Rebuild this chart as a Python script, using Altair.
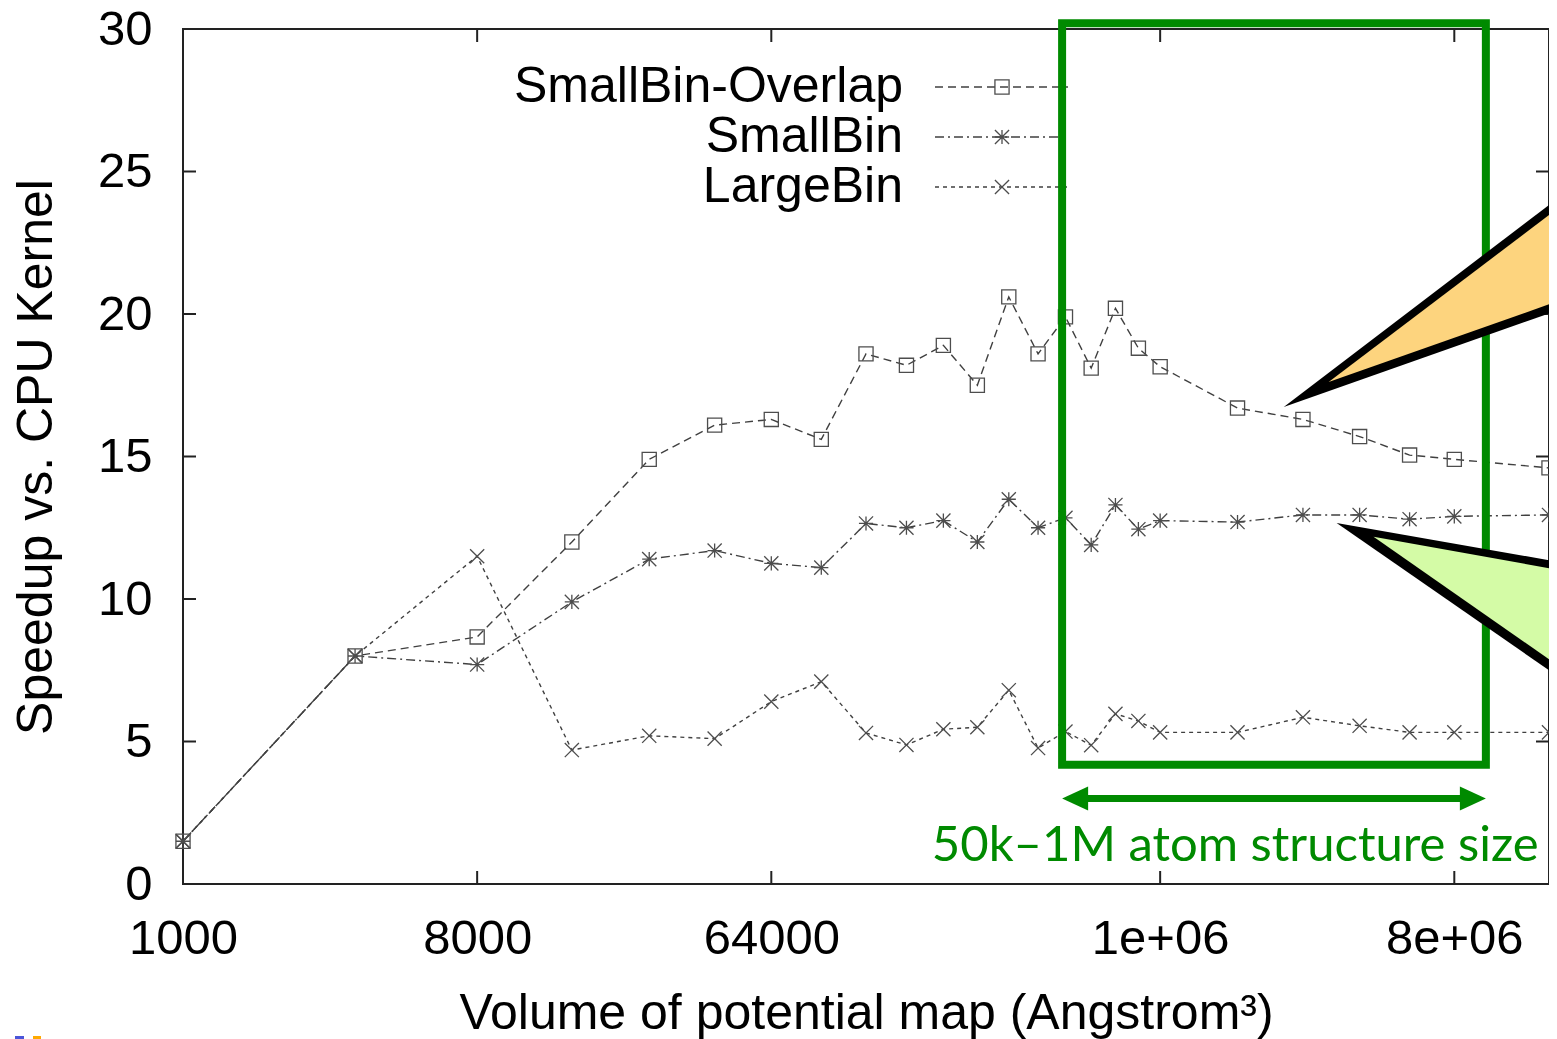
import altair as alt
import pandas as pd

# ---------------- data ----------------
series = ["SmallBin-Overlap", "SmallBin", "LargeBin"]
volumes = [1000, 3375, 8000, 15625, 27000, 42875, 64000, 91125, 125000, 166375,
           216000, 274625, 343000, 421875, 512000, 614125, 729000, 857375,
           1000000, 1728000, 2744000, 4096000, 5832000, 8000000, 15625000]
overlap = [1.5, 8.0, 8.67, 12.0, 14.9, 16.1, 16.3, 15.6, 18.6, 18.2, 18.9, 17.5,
           20.6, 18.6, 19.9, 18.1, 20.2, 18.8, 18.15, 16.7, 16.3, 15.7, 15.05, 14.9, 14.6]
smallbin = [1.5, 8.0, 7.7, 9.9, 11.4, 11.7, 11.25, 11.1, 12.65, 12.5, 12.75, 12.0,
            13.5, 12.5, 12.85, 11.9, 13.3, 12.45, 12.75, 12.7, 12.95, 12.95, 12.8, 12.9, 12.95]
largebin = [1.5, 8.0, 11.5, 4.7, 5.2, 5.1, 6.4, 7.1, 5.3, 4.88, 5.43, 5.5, 6.8,
            4.77, 5.35, 4.87, 5.97, 5.72, 5.32, 5.32, 5.85, 5.55, 5.32, 5.32, 5.32]

x_ticks = [1000, 8000, 64000, 1000000, 8000000]
x_tick_labels = ["1000", "8000", "64000", "1e+06", "8e+06"]
y_ticks = [0, 5, 10, 15, 20, 25, 30]

# annotation (data coordinates)
box_x = [500000, 10000000]
box_y = [4.18, 30.2]
arrow_x = [500000, 10000000]
arrow_y = 3.0
note_text = "50k\u20131M atom structure size"
note_x = 1700000
note_y = 0.8
# callouts: tip then far end (upper, lower)
orange_outer_x = [2396000, 21760000]; orange_outer_hi = [16.74, 25.08]; orange_outer_lo = [16.74, 20.6]
orange_inner_x = [3291000, 21760000]; orange_inner_hi = [17.61, 24.72]; orange_inner_lo = [17.61, 20.92]
green_outer_x = [3482000, 21760000]; green_outer_hi = [12.67, 11.07]; green_outer_lo = [12.67, 6.36]
green_inner_x = [4520000, 21760000]; green_inner_hi = [12.18, 10.79]; green_inner_lo = [12.18, 6.74]

# ---------------- styling ----------------
W, H = 1366, 855
FONT = "Liberation Sans"
GREEN = "#008a00"
LINE_C = "#404040"
MARK_C = "#4d4d4d"
ASTER = "M-1,0L1,0M0,-1L0,1M-1,-1L1,1M-1,1L1,-1"
XSHAPE = "M-1,-1L1,1M-1,1L1,-1"
shapes = ["square", ASTER, XSHAPE]
dashes = [[8, 5], [9, 4, 2, 4], [4, 4]]

rows = []
for name, vals in zip(series, [overlap, smallbin, largebin]):
    for v, s in zip(volumes, vals):
        rows.append({"volume": v, "speedup": s, "series": name})
df = pd.DataFrame(rows)

xscale = alt.Scale(type="log", domain=[1000, 15625000], nice=False)
yscale = alt.Scale(domain=[0, 30], nice=False, zero=False)

label_expr = " : ".join(
    [f"datum.value == {v} ? '{l}'" for v, l in zip(x_ticks, x_tick_labels)]
) + " : ''"

xaxis = alt.Axis(values=x_ticks, labelExpr=label_expr, ticks=False, domain=False,
                 grid=False, labelFont=FONT, labelFontSize=49, labelColor="black",
                 labelPadding=30, labelFlush=False, labelOverlap=False,
                 title="Volume of potential map (Angstrom\u00b3)", titleFont=FONT,
                 titleFontSize=50, titleFontWeight="normal", titleColor="black",
                 titleX=W / 2, titleY=144, titleBaseline="alphabetic", titleAlign="center")
yaxis = alt.Axis(values=y_ticks, ticks=False, domain=False, grid=False,
                 labelFont=FONT, labelFontSize=49, labelColor="black", labelPadding=31,
                 title="Speedup vs. CPU Kernel", titleFont=FONT, titleFontSize=50,
                 titleFontWeight="normal", titleColor="black", titleAngle=270,
                 titleX=-132, titleY=H / 2, titleBaseline="alphabetic", titleAlign="center")


def X(field):
    return alt.X(field, type="quantitative", scale=xscale, axis=xaxis)


def Y(field):
    return alt.Y(field, type="quantitative", scale=yscale, axis=yaxis)


base = alt.Chart(df).encode(x=X("volume"), y=Y("speedup"))
lines = base.mark_line(color=LINE_C, strokeWidth=1.4).encode(
    strokeDash=alt.StrokeDash("series:N", scale=alt.Scale(domain=series, range=dashes), legend=None)
)
points = base.mark_point(filled=False, color=MARK_C, strokeWidth=1.3, size=200, opacity=1).encode(
    shape=alt.Shape("series:N", scale=alt.Scale(domain=series, range=shapes), legend=None)
)

# ---------------- inward ticks (gnuplot style) ----------------
ytdf = pd.DataFrame({"v": y_ticks})
xtdf = pd.DataFrame({"v": x_ticks})
TK = dict(color="#222222", strokeWidth=2)
tick_l = alt.Chart(ytdf).mark_rule(**TK).encode(y=Y("v"), x=alt.value(0), x2=alt.value(13))
tick_r = alt.Chart(ytdf).mark_rule(**TK).encode(y=Y("v"), x=alt.value(W), x2=alt.value(W - 13))
tick_b = alt.Chart(xtdf).mark_rule(**TK).encode(x=X("v"), y=alt.value(H), y2=alt.value(H - 13))
tick_t = alt.Chart(xtdf).mark_rule(**TK).encode(x=X("v"), y=alt.value(0), y2=alt.value(13))

# ---------------- legend (manual, gnuplot style) ----------------
legend_layers = []
for i, name in enumerate(series):
    ly = 58 + 50 * i
    one = pd.DataFrame({"series": [name]})
    legend_layers.append(alt.Chart(one).mark_text(
        align="right", baseline="middle", font=FONT, fontSize=50, color="black").encode(
        x=alt.value(720), y=alt.value(ly), text="series:N"))
    legend_layers.append(alt.Chart(one).mark_rule(
        color=LINE_C, strokeWidth=1.4, strokeDash=dashes[i]).encode(
        x=alt.value(752), x2=alt.value(885), y=alt.value(ly)))
    legend_layers.append(alt.Chart(one).mark_point(
        filled=False, color=MARK_C, strokeWidth=1.3, size=200, opacity=1, shape=shapes[i]).encode(
        x=alt.value(819), y=alt.value(ly)))

# ---------------- annotations ----------------
box = alt.Chart(pd.DataFrame({"x": [box_x[0]], "x2": [box_x[1]], "y": [box_y[1]], "y2": [box_y[0]]})).mark_rect(
    fillOpacity=0, stroke=GREEN, strokeWidth=8).encode(
    x=X("x"), x2="x2:Q", y=Y("y"), y2="y2:Q")

arrow_shaft = alt.Chart(pd.DataFrame({"x": [arrow_x[0]], "x2": [arrow_x[1]], "y": [arrow_y]})).mark_rule(
    color=GREEN, strokeWidth=7, xOffset=18, x2Offset=-18).encode(
    x=X("x"), x2="x2:Q", y=Y("y"))
head_l = alt.Chart(pd.DataFrame({"x": [arrow_x[0]], "y": [arrow_y]})).mark_point(
    shape="M0,0L26,-12L26,12Z", size=4, filled=True, color=GREEN, opacity=1).encode(
    x=X("x"), y=Y("y"))
head_r = alt.Chart(pd.DataFrame({"x": [arrow_x[1]], "y": [arrow_y]})).mark_point(
    shape="M0,0L-26,-12L-26,12Z", size=4, filled=True, color=GREEN, opacity=1).encode(
    x=X("x"), y=Y("y"))
note = alt.Chart(pd.DataFrame({"x": [note_x], "y": [note_y], "t": [note_text]})).mark_text(
    align="center", baseline="alphabetic", font="Lato", fontSize=49, color=GREEN).encode(
    x=X("x"), y=Y("y"), text="t:N")


def tri(xs, hi, lo, color):
    d = pd.DataFrame({"x": xs, "hi": hi, "lo": lo})
    return alt.Chart(d).mark_area(color=color, opacity=1, interpolate="linear").encode(
        x=X("x"), y=Y("hi"), y2="lo:Q")


callouts = [
    tri(orange_outer_x, orange_outer_hi, orange_outer_lo, "black"),
    tri(orange_inner_x, orange_inner_hi, orange_inner_lo, "#fdd47e"),
    tri(green_outer_x, green_outer_hi, green_outer_lo, "black"),
    tri(green_inner_x, green_inner_hi, green_inner_lo, "#d4fba6"),
]

# tiny slide-corner marks at the bottom-left
corner = pd.DataFrame({"k": [0]})
corner_marks = [
    alt.Chart(corner).mark_rect(color="#4a55d9").encode(
        x=alt.value(-168), x2=alt.value(-159), y=alt.value(1007), y2=alt.value(1012)),
    alt.Chart(corner).mark_rect(color="#ffaa00").encode(
        x=alt.value(-150), x2=alt.value(-142), y=alt.value(1007), y2=alt.value(1012)),
]

chart = alt.layer(
    lines, points, tick_l, tick_r, tick_b, tick_t, *legend_layers,
    box, arrow_shaft, head_l, head_r, note, *callouts, *corner_marks,
).properties(
    width=W, height=H, background="white",
    autosize=alt.AutoSizeParams(type="none"),
    padding={"left": 175, "top": 21, "right": 0, "bottom": 155},
).configure_view(stroke="#222222", strokeWidth=2)

chart.save("out.html", embed_options={"renderer": "svg", "actions": False})
